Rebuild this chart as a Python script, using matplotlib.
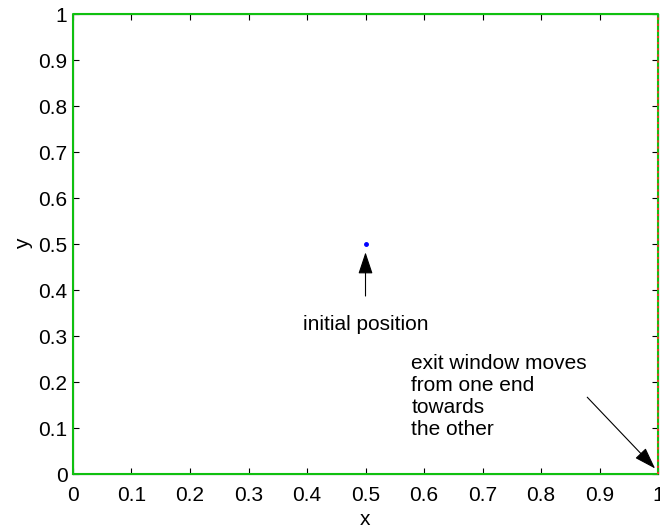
import matplotlib
matplotlib.use('Agg')
import matplotlib.pyplot as plt

plt.rcParams['font.family'] = ['Liberation Sans', 'DejaVu Sans']
plt.rcParams['font.size'] = 15

# domain boundary (unit square) and exit window on the right edge
wall_x = [0, 1, 1, 0, 0]
wall_y = [0, 0, 1, 1, 0]
exit_x = [1, 1]
exit_y = [0, 1]
start = (0.5, 0.5)

ticks = [0, 0.1, 0.2, 0.3, 0.4, 0.5, 0.6, 0.7, 0.8, 0.9, 1]
tick_labels = ['0', '0.1', '0.2', '0.3', '0.4', '0.5', '0.6', '0.7', '0.8', '0.9', '1']

fig = plt.figure(figsize=(6.6, 5.31), dpi=100)
ax = fig.add_axes([0.1106, 0.1073, 0.8864, 0.8663])

ax.plot(wall_x, wall_y, color='#10c010', lw=1.5, clip_on=False, zorder=3)
ax.plot(exit_x, exit_y, color='#ff3020', lw=1.3, linestyle=(0, (1.2, 2.2)), clip_on=False, zorder=4)
ax.plot([start[0]], [start[1]], 'o', color='#0000ff', markersize=2.5)

head = '-|>,head_length=0.9,head_width=0.3'
ax.annotate('initial position', xy=(0.5, 0.482), xytext=(0.5, 0.324),
            ha='center', va='center',
            arrowprops=dict(arrowstyle=head, color='black', lw=0.8,
                            shrinkA=12, shrinkB=0))
ax.text(0.578, 0.262, 'exit window moves\nfrom one end\ntowards\nthe other',
        ha='left', va='top', linespacing=1.22)
ax.annotate('', xy=(0.995, 0.012), xytext=(0.879, 0.167),
            arrowprops=dict(arrowstyle=head, color='black', lw=0.8,
                            shrinkA=0, shrinkB=0))

ax.set_xlim(0, 1)
ax.set_ylim(0, 1)
ax.set_xticks(ticks)
ax.set_xticklabels(tick_labels)
ax.set_yticks(ticks)
ax.set_yticklabels(tick_labels)
ax.tick_params(direction='in', length=4, top=True, right=True)
ax.tick_params(axis='x', pad=8.5)
ax.tick_params(axis='y', pad=4)
ax.set_xlabel('x', labelpad=4)
ax.set_ylabel('y', labelpad=4)

fig.savefig('out.png', dpi=100)
